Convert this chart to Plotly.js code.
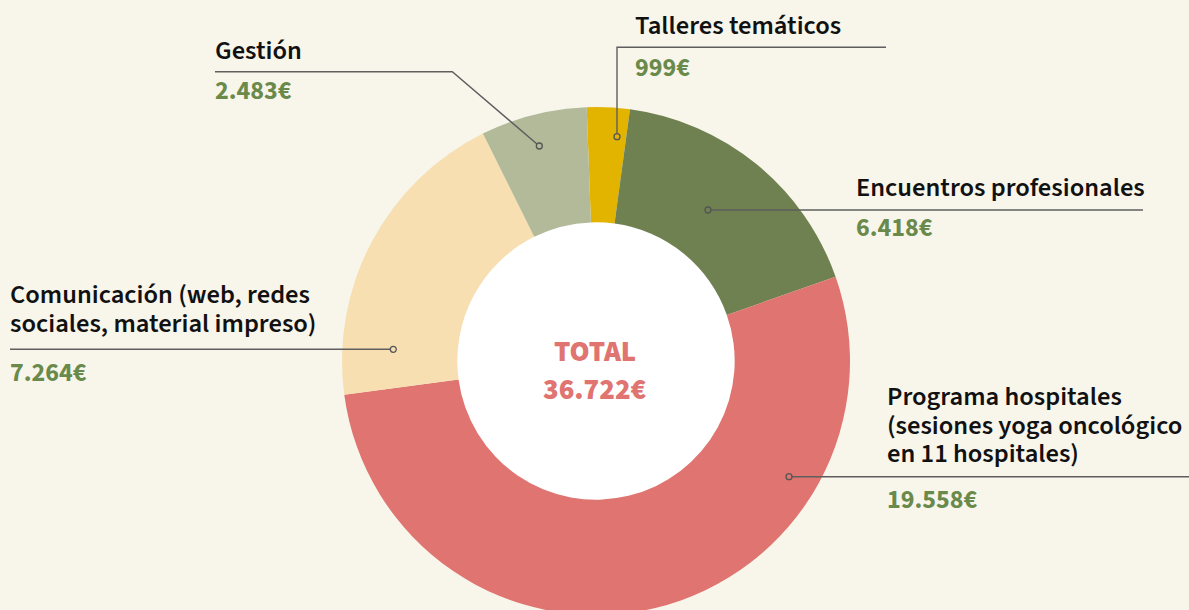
<!DOCTYPE html>
<html>
<head>
<meta charset="utf-8">
<script src="https://cdn.plot.ly/plotly-3.0.1.min.js"></script>
<style>
html,body{margin:0;padding:0;background:#f8f5eb;overflow:hidden;width:1189px;height:610px;}
#chart{width:1189px;height:700px;}
</style>
</head>
<body>
<div id="chart"></div>
<script>
// ---- data ----
const categories = ["Talleres temáticos", "Encuentros profesionales", "Programa hospitales (sesiones yoga oncológico en 11 hospitales)", "Comunicación (web, redes sociales, material impreso)", "Gestión"];
const labelLines = [
  ["Talleres temáticos"],
  ["Encuentros profesionales"],
  ["Programa hospitales", "(sesiones yoga oncológico", "en 11 hospitales)"],
  ["Comunicación (web, redes", "sociales, material impreso)"],
  ["Gestión"]
];
const values = [999, 6418, 19558, 7264, 2483];
const totalLabel = "TOTAL";

// ---- style ----
const colors = ["#e2b400", "#6f8151", "#df7470", "#f7dfb2", "#b2ba9a"];
const W = 1189, H = 700;
const CX = 596, CY = 361, R = 254, HOLE = 0.546;
const FONT = "'Source Sans 3', 'Source Sans Pro', Lato, sans-serif";
const px = x => x / W;
const py = y => 1 - y / H;
const fmt = v => v.toString().replace(/\B(?=(\d{3})+(?!\d))/g, ".") + "€";
const total = values.reduce((a, b) => a + b, 0);

// layout positions for labels (pixel coords): label baselines, value baseline, leader path, dot
const place = [
  {x: 635, lines: [34], valY: 75, path: [[617, 136.7], [617, 47.3], [886, 47.3]]},
  {x: 856, lines: [196], valY: 235, path: [[708, 210], [1143, 210]]},
  {x: 886.5, lines: [405, 433.5, 462], valY: 506.5, path: [[789, 476.7], [1189, 476.7]]},
  {x: 10, lines: [303, 332], valY: 380, path: [[393.3, 349.3], [10, 349.3]]},
  {x: 215, lines: [59], valY: 98, path: [[539.3, 146], [452.3, 71.7], [215, 71.7]]}
];

const LS = 26.5;  // label font size
const VS = 26;    // value font size
const BASE = 0.29; // baseline -> center offset factor
const XOFF = 2;    // annotation inner padding compensation

const annotations = [];
const shapes = [];

// white hole background
shapes.push({type: "circle", xref: "paper", yref: "paper", layer: "below",
  x0: px(CX - R * HOLE - 3), x1: px(CX + R * HOLE + 3),
  y0: py(CY + R * HOLE + 3), y1: py(CY - R * HOLE - 3),
  fillcolor: "#ffffff", line: {width: 0}});

categories.forEach((c, i) => {
  const p = place[i];
  labelLines[i].forEach((t, j) => {
    annotations.push({xref: "paper", yref: "paper", x: px(p.x - XOFF), y: py(p.lines[j] - LS * BASE),
      xanchor: "left", yanchor: "middle", showarrow: false, text: t, height: 26, valign: "middle",
      font: {family: FONT, size: LS, color: "#111111", weight: 600}});
  });
  annotations.push({xref: "paper", yref: "paper", x: px(p.x - XOFF), y: py(p.valY - VS * BASE),
    xanchor: "left", yanchor: "middle", showarrow: false, text: fmt(values[i]), height: 26, valign: "middle",
    font: {family: FONT, size: VS, color: "#6a8a4b", weight: 700}});
  const d = p.path.map((pt, k) => (k ? "L" : "M") + px(pt[0]) + "," + py(pt[1])).join(" ");
  shapes.push({type: "path", xref: "paper", yref: "paper", path: d, layer: "above",
    line: {color: "#5e5e5e", width: 1.4}});
  const dot = p.path[0];
  shapes.push({type: "circle", xref: "paper", yref: "paper", layer: "above",
    x0: px(dot[0] - 3), x1: px(dot[0] + 3), y0: py(dot[1] + 3), y1: py(dot[1] - 3),
    fillcolor: colors[i], line: {color: "#555555", width: 1.3}});
});

// center total
const TS = 29;
annotations.push({xref: "paper", yref: "paper", x: px(CX - 1), y: py(360 - TS * BASE),
  xanchor: "center", yanchor: "middle", showarrow: false, text: totalLabel,
  font: {family: FONT, size: TS, color: "#df7470", weight: 900}});
annotations.push({xref: "paper", yref: "paper", x: px(CX - 1), y: py(398 - TS * BASE),
  xanchor: "center", yanchor: "middle", showarrow: false, text: fmt(total),
  font: {family: FONT, size: TS, color: "#df7470", weight: 900}});

const trace = {
  type: "pie",
  labels: categories,
  values: values,
  sort: false,
  direction: "clockwise",
  rotation: -2.1,
  hole: HOLE,
  marker: {colors: colors, line: {width: 0}},
  textinfo: "none",
  hoverinfo: "label+value",
  showlegend: false,
  domain: {x: [px(CX - R), px(CX + R)], y: [py(CY + R), py(CY - R)]}
};

const layout = {
  width: W, height: H,
  margin: {l: 0, r: 0, t: 0, b: 0},
  paper_bgcolor: "#f8f5eb",
  plot_bgcolor: "#f8f5eb",
  showlegend: false,
  annotations: annotations,
  shapes: shapes
};

Plotly.newPlot("chart", [trace], layout, {displayModeBar: false, staticPlot: true});
</script>
</body>
</html>
